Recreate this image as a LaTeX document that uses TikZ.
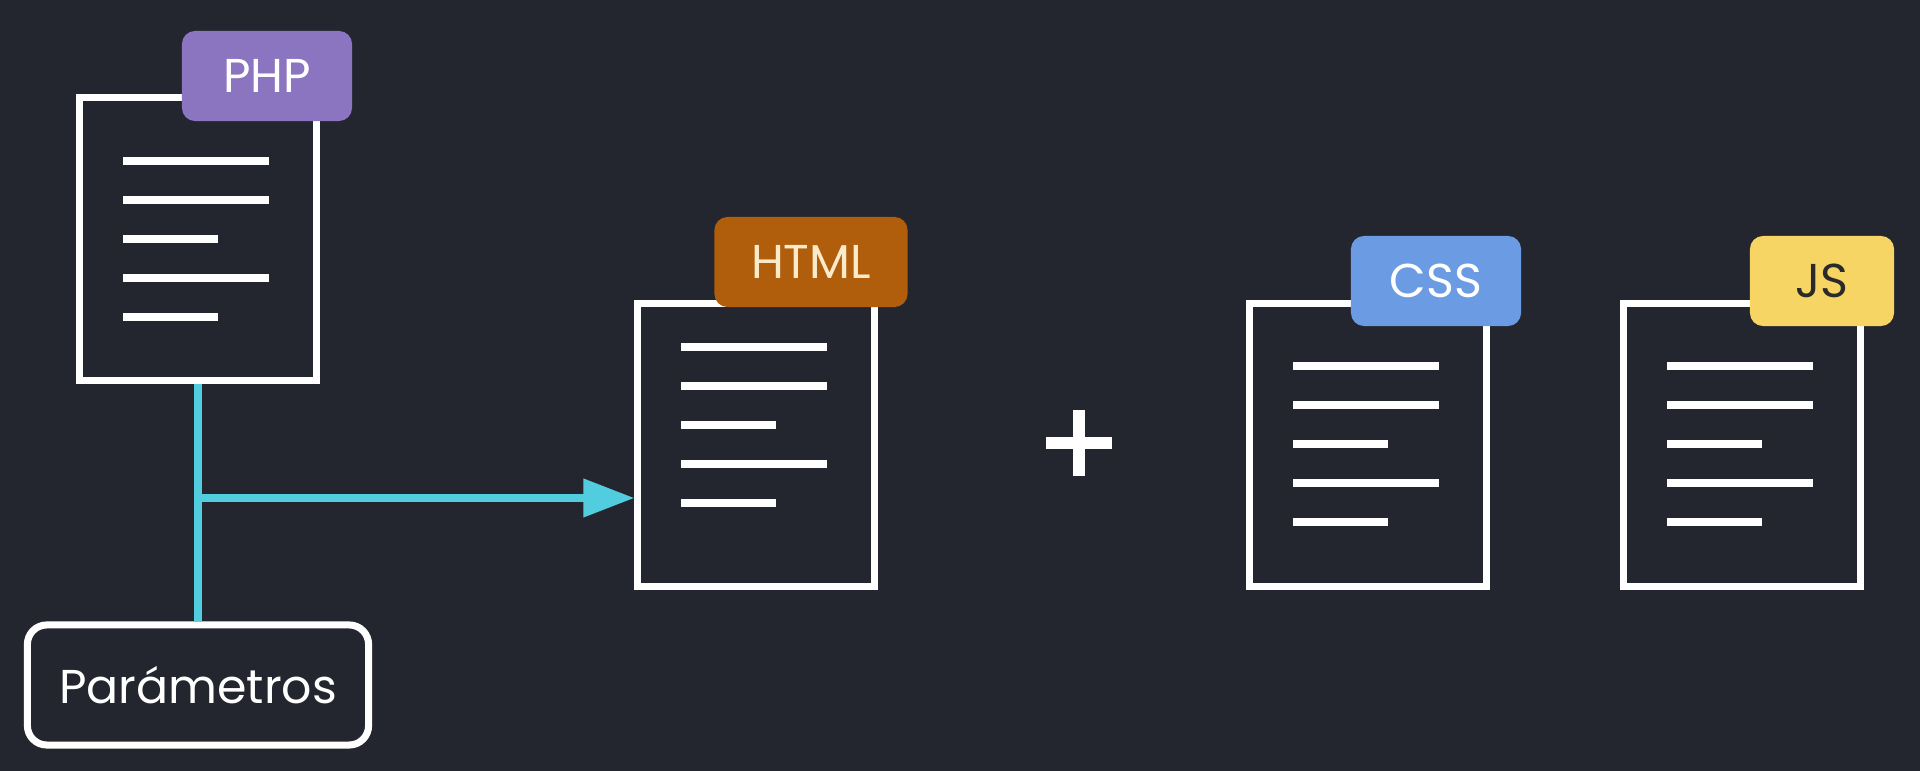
\documentclass[tikz,border=0pt]{standalone}
\usepackage{fontspec}
\setmainfont{Poppins}
\usetikzlibrary{arrows.meta}

\definecolor{bgdark}{HTML}{23262E}
\definecolor{phpviolet}{HTML}{8B74C0}
\definecolor{htmlbrown}{HTML}{B05D0C}
\definecolor{htmlcream}{HTML}{FBEBCB}
\definecolor{cssblue}{HTML}{6B9BE2}
\definecolor{jsyellow}{HTML}{F7D564}
\definecolor{jsink}{HTML}{2A2A2A}
\definecolor{linkcyan}{HTML}{52CDE0}

\begin{document}
\begin{tikzpicture}[x=0.01cm, y=-0.01cm,
    doc/.style={draw=white, line width=2pt, fill=bgdark, minimum width=2.36cm, minimum height=2.82cm, inner sep=0pt},
    tag/.style={rounded corners=3.7pt, minimum height=0.9cm, inner sep=0pt, font=\fontsize{13.5}{16}\selectfont},
    textline/.style={white, line width=2.3pt},
    link/.style={linkcyan, line width=2.1pt}]

    \fill[bgdark] (0,0) rectangle (1920,771);
    \useasboundingbox (0,0) rectangle (1920,771);

    % files
    \node[doc] (php) at (198,239) {};
    \node[doc] (html) at (756,445) {};
    \node[doc] (css) at (1368,445) {};
    \node[doc] (js) at (1742,445) {};

    % text lines inside the files
    \foreach \doc/\top in {php/67, html/47, css/66, js/66} {
        \foreach \k/\len in {0/146, 1/146, 2/95, 3/146, 4/95}
            \draw[textline] ([shift={(47,\top+39*\k)}]\doc.north west) -- ++(\len,0);
    }

    % tags
    \node[tag, fill=phpviolet, text=white, minimum width=1.70cm] (phptag) at (267,76) {PHP};
    \node[tag, fill=htmlbrown, text=htmlcream, minimum width=1.93cm] (htmltag) at (811,262) {HTML};
    \node[tag, fill=cssblue, text=white, minimum width=1.70cm] (csstag) at (1436,281) {CSS};
    \node[tag, fill=jsyellow, text=jsink, minimum width=1.44cm] (jstag) at (1822,281) {JS};

    \node[draw=white, line width=2pt, rounded corners=5.5pt, minimum width=3.41cm, minimum height=1.2cm,
          font=\fontsize{13.5}{16}\selectfont, text=white] (params) at (198,685) {Parámetros};

    % connectors
    \coordinate (split) at (198,498);
    \draw[link] (php.south) -- (params.north);
    \draw[link, -{Triangle[length=14.5pt,width=10.5pt]}] (split) -- (split -| html.west);

    \draw[white, line width=3.4pt] (1046,443) -- (1112,443) (1079,410) -- (1079,476);
\end{tikzpicture}
\end{document}
